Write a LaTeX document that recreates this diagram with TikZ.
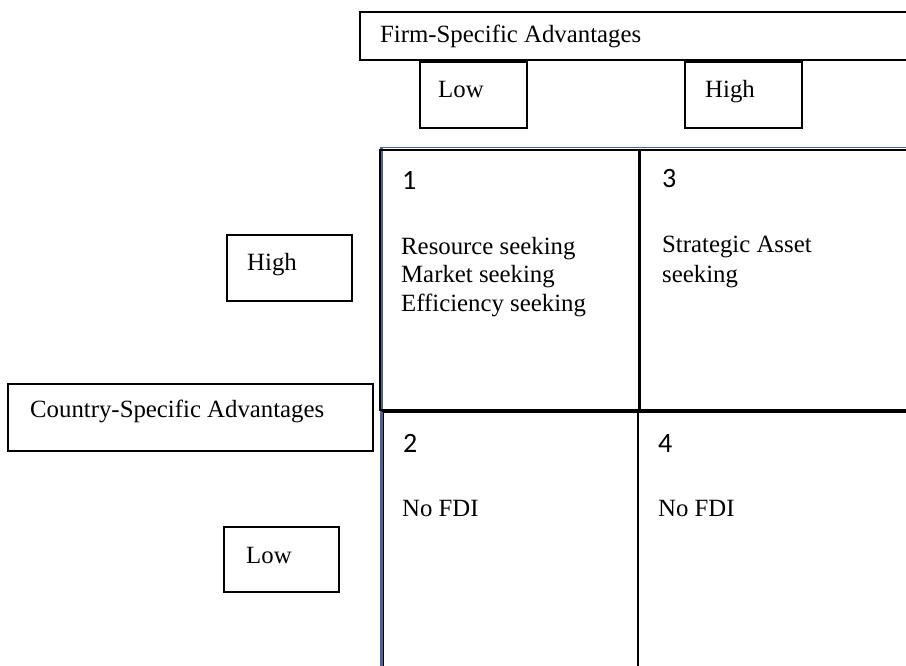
\documentclass[tikz,border=0pt]{standalone}
\usepackage{fontspec}
\setmainfont{Liberation Serif}
\newfontfamily\numfont{Carlito}
\definecolor{edgeblue}{RGB}{72,100,150}
\begin{document}
\begin{tikzpicture}[x=1pt,y=-1pt,
        txt/.style={anchor=base west,inner sep=0pt,font=\fontsize{24.8}{29}\selectfont,align=left},
        num/.style={anchor=base west,inner sep=0pt,font=\numfont\fontsize{28}{30}\selectfont},
        box/.style={draw=black,line width=1.5pt},
        cell/.style={draw=black,line width=2.5pt}]
                \clip (0,0) rectangle (906,666);
                \fill[white] (0,0) rectangle (906,666);
                % labels of the two axes
                \draw[box] (360,12) rectangle (920,60);
                \node[txt] (fsa) at (380,43) {Firm-Specific Advantages};
                \draw[box] (420,62) rectangle (527,128);
                \node[txt] (fsalow) at (438,98) {Low};
                \draw[box] (685,62) rectangle (802,128);
                \node[txt] (fsahigh) at (705,98) {High};
                \draw[box] (8,384) rectangle (373,451);
                \node[txt] (csa) at (30,417) {Country-Specific Advantages};
                \draw[box] (227,235) rectangle (352,301);
                \node[txt] (csahigh) at (247,270) {High};
                \draw[box] (224,527) rectangle (339,592);
                \node[txt] (csalow) at (246,563) {Low};
                % the four cells
                \draw[line width=3pt,draw=edgeblue] (381,148) -- (381,670);
                \draw[line width=1pt,draw=edgeblue] (380,148) -- (910,148);
                \draw[cell] (380,150) rectangle (639,410);
                \draw[cell] (640,150) rectangle (920,410);
                \draw[box] (383,412) rectangle (638,680);
                \draw[box] (638,412) rectangle (920,680);
                \draw[line width=2.5pt,draw=edgeblue] (382,412) -- (382,670);
                \node[num] (n1) at (402,190) {1};
                \node[txt] (c1) at (401,312) {Resource seeking\\Market seeking\\Efficiency seeking};
                \node[num] (n3) at (662,188) {3};
                \node[txt] (c3) at (662,282) {Strategic Asset\\seeking};
                \node[num] (n2) at (403,452) {2};
                \node[txt] (c2) at (402,516) {No FDI};
                \node[num] (n4) at (658,452) {4};
                \node[txt] (c4) at (658,516) {No FDI};
            \end{tikzpicture}
\end{document}
